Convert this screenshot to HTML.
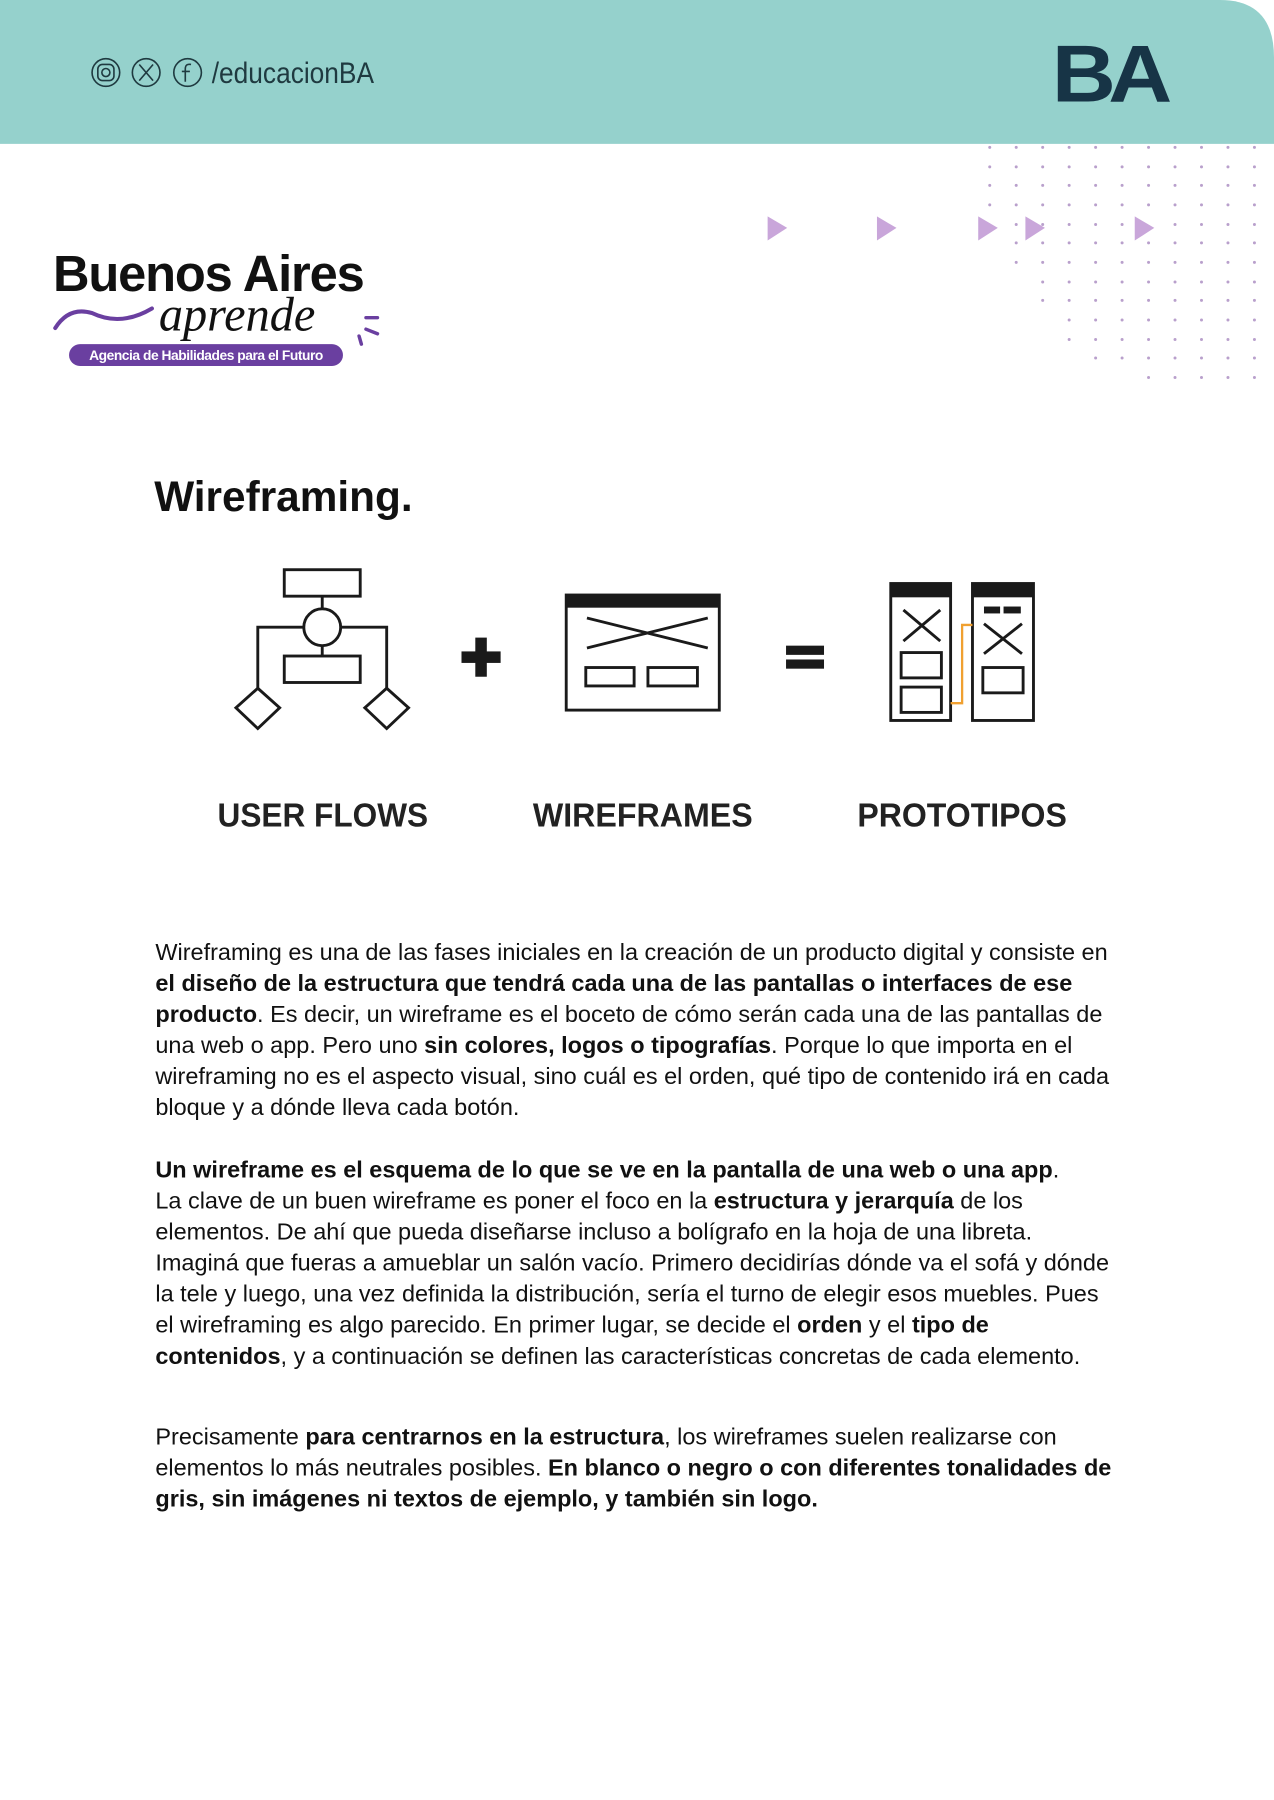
<!DOCTYPE html>
<html><head><meta charset="utf-8"><style>
html,body{margin:0;padding:0;background:#fff;}
svg{display:block;}
text{font-family:"Liberation Sans",Arial,sans-serif;}
.p{font-size:20.4px;fill:#111;}
.b{font-weight:bold;}
</style></head><body>
<svg width="1274" height="1800" viewBox="0 0 1107 1564" xmlns="http://www.w3.org/2000/svg">
<path d="M0 0 H1060 Q1107 0 1107 50 V125 H0 Z" fill="#95d1cc"/>
<g fill="none" stroke="#1f3a40" stroke-width="1.4">
<circle cx="92" cy="63" r="12"/><rect x="85" y="56" width="14" height="14" rx="4"/><circle cx="92" cy="63" r="3.5"/>
<circle cx="127" cy="63" r="12"/><path d="M121 56 L133 70 M133 56 L121 70"/>
<circle cx="163" cy="63" r="12"/><path d="M166 56 Q161 55 161 60 V71 M158 62 H165"/>
</g>
<text x="184" y="72" font-size="26" fill="#1f3a40" textLength="141" lengthAdjust="spacingAndGlyphs">/educacionBA</text>
<text x="914" y="88" font-size="70" font-weight="bold" fill="#173446" textLength="98" lengthAdjust="spacingAndGlyphs" style="letter-spacing:-6px">BA</text>
<g fill="#c9a6da">
<path d="M667 188 L684 198 L667 209Z"/><path d="M762 188 L779 198 L762 209Z"/><path d="M850 188 L867 198 L850 209Z"/><path d="M891 188 L908 198 L891 209Z"/><path d="M986 188 L1003 198 L986 209Z"/>
</g>
<text x="46" y="253" font-size="44" font-weight="bold" fill="#111" style="letter-spacing:-1px">Buenos Aires</text>
<path d="M48 285 Q60 266 80 272 Q105 284 132 268" fill="none" stroke="#6a3fa0" stroke-width="3.5" stroke-linecap="round"/>
<text x="138" y="287" font-size="42" font-style="italic" fill="#111" style="font-family:'Liberation Serif',serif">aprende</text>
<g stroke="#6a3fa0" stroke-width="3" stroke-linecap="round"><path d="M318 276 H328 M318 286 L328 290 M312 292 L314 299"/></g>
<rect x="60" y="299" width="238" height="19" rx="9.5" fill="#6a3fa0"/>
<text x="179" y="313" font-size="12" font-weight="bold" fill="#fff" text-anchor="middle" style="letter-spacing:-0.4px">Agencia de Habilidades para el Futuro</text>
<text x="134" y="444" font-size="36.8" font-weight="bold" fill="#111">Wireframing.</text>
<g fill="none" stroke="#1a1a1a" stroke-width="2.5">
<rect x="247" y="495" width="66" height="23"/>
<path d="M280 518 V529 M280 561 V570 M264 545 H224 V598 M296 545 H336 V598"/>
<circle cx="280" cy="545" r="16"/>
<rect x="247" y="570" width="66" height="23"/>
<path d="M224 598 L243 615 L224 633 L205 615Z M336 598 L355 615 L336 633 L317 615Z"/>
<rect x="492" y="517" width="133" height="100"/>
<path d="M510 537 L615 563 M510 563 L615 537"/>
<rect x="509" y="580" width="42" height="16"/><rect x="563" y="580" width="43" height="16"/>
<rect x="774" y="507" width="52" height="119"/>
<path d="M785 530 L817 557 M817 530 L785 557"/>
<rect x="783" y="567" width="35" height="22"/><rect x="783" y="597" width="35" height="22"/>
<rect x="845" y="507" width="53" height="119"/>
<path d="M855 542 L888 568 M888 542 L855 568"/>
<rect x="854" y="580" width="35" height="22"/>
</g>
<path d="M826 611 H836 V543 H845" fill="none" stroke="#f0a030" stroke-width="2"/>
<g fill="#1a1a1a">
<rect x="413" y="554" width="10" height="34"/><rect x="401" y="566" width="34" height="10"/>
<rect x="492" y="517" width="133" height="11"/>
<rect x="683" y="561" width="33" height="8"/><rect x="683" y="573" width="33" height="8"/>
<rect x="774" y="507" width="52" height="12"/><rect x="845" y="507" width="53" height="12"/>
<rect x="855" y="527" width="14" height="6"/><rect x="872" y="527" width="15" height="6"/>
</g>
<g font-size="29" font-weight="bold" fill="#222">
<text x="189" y="718" textLength="183" lengthAdjust="spacingAndGlyphs">USER FLOWS</text>
<text x="463" y="718" textLength="191" lengthAdjust="spacingAndGlyphs">WIREFRAMES</text>
<text x="745" y="718" textLength="182" lengthAdjust="spacingAndGlyphs">PROTOTIPOS</text>
</g>
<g class="p">
<text x="135" y="834">Wireframing es una de las fases iniciales en la creación de un producto digital y consiste en</text>
<text x="135" y="861" class="b">el diseño de la estructura que tendrá cada una de las pantallas o interfaces de ese</text>
<text x="135" y="888"><tspan class="b">producto</tspan>. Es decir, un wireframe es el boceto de cómo serán cada una de las pantallas de</text>
<text x="135" y="915">una web o app. Pero uno <tspan class="b">sin colores, logos o tipografías</tspan>. Porque lo que importa en el</text>
<text x="135" y="942">wireframing no es el aspecto visual, sino cuál es el orden, qué tipo de contenido irá en cada</text>
<text x="135" y="969">bloque y a dónde lleva cada botón.</text>
<text x="135" y="1023"><tspan class="b">Un wireframe es el esquema de lo que se ve en la pantalla de una web o una app</tspan>.</text>
<text x="135" y="1050">La clave de un buen wireframe es poner el foco en la <tspan class="b">estructura y jerarquía</tspan> de los</text>
<text x="135" y="1077">elementos. De ahí que pueda diseñarse incluso a bolígrafo en la hoja de una libreta.</text>
<text x="135" y="1104">Imaginá que fueras a amueblar un salón vacío. Primero decidirías dónde va el sofá y dónde</text>
<text x="135" y="1131">la tele y luego, una vez definida la distribución, sería el turno de elegir esos muebles. Pues</text>
<text x="135" y="1158">el wireframing es algo parecido. En primer lugar, se decide el <tspan class="b">orden</tspan> y el <tspan class="b">tipo de</tspan></text>
<text x="135" y="1185"><tspan class="b">contenidos</tspan>, y a continuación se definen las características concretas de cada elemento.</text>
<text x="135" y="1255">Precisamente <tspan class="b">para centrarnos en la estructura</tspan>, los wireframes suelen realizarse con</text>
<text x="135" y="1282">elementos lo más neutrales posibles. <tspan class="b">En blanco o negro o con diferentes tonalidades de</tspan></text>
<text x="135" y="1309" class="b">gris, sin imágenes ni textos de ejemplo, y también sin logo.</text>
</g>
<g fill="#b9a0cc">
<circle cx="860" cy="128" r="1.3"/><circle cx="883" cy="128" r="1.3"/><circle cx="906" cy="128" r="1.3"/><circle cx="929" cy="128" r="1.3"/><circle cx="952" cy="128" r="1.3"/><circle cx="975" cy="128" r="1.3"/><circle cx="998" cy="128" r="1.3"/><circle cx="1021" cy="128" r="1.3"/><circle cx="1044" cy="128" r="1.3"/><circle cx="1067" cy="128" r="1.3"/><circle cx="1090" cy="128" r="1.3"/>
<circle cx="860" cy="145" r="1.3"/><circle cx="883" cy="145" r="1.3"/><circle cx="906" cy="145" r="1.3"/><circle cx="929" cy="145" r="1.3"/><circle cx="952" cy="145" r="1.3"/><circle cx="975" cy="145" r="1.3"/><circle cx="998" cy="145" r="1.3"/><circle cx="1021" cy="145" r="1.3"/><circle cx="1044" cy="145" r="1.3"/><circle cx="1067" cy="145" r="1.3"/><circle cx="1090" cy="145" r="1.3"/>
<circle cx="860" cy="161" r="1.3"/><circle cx="883" cy="161" r="1.3"/><circle cx="906" cy="161" r="1.3"/><circle cx="929" cy="161" r="1.3"/><circle cx="952" cy="161" r="1.3"/><circle cx="975" cy="161" r="1.3"/><circle cx="998" cy="161" r="1.3"/><circle cx="1021" cy="161" r="1.3"/><circle cx="1044" cy="161" r="1.3"/><circle cx="1067" cy="161" r="1.3"/><circle cx="1090" cy="161" r="1.3"/>
<circle cx="860" cy="178" r="1.3"/><circle cx="883" cy="178" r="1.3"/><circle cx="906" cy="178" r="1.3"/><circle cx="929" cy="178" r="1.3"/><circle cx="952" cy="178" r="1.3"/><circle cx="975" cy="178" r="1.3"/><circle cx="998" cy="178" r="1.3"/><circle cx="1021" cy="178" r="1.3"/><circle cx="1044" cy="178" r="1.3"/><circle cx="1067" cy="178" r="1.3"/><circle cx="1090" cy="178" r="1.3"/>
<circle cx="883" cy="195" r="1.3"/><circle cx="906" cy="195" r="1.3"/><circle cx="929" cy="195" r="1.3"/><circle cx="952" cy="195" r="1.3"/><circle cx="975" cy="195" r="1.3"/><circle cx="1021" cy="195" r="1.3"/><circle cx="1044" cy="195" r="1.3"/><circle cx="1067" cy="195" r="1.3"/><circle cx="1090" cy="195" r="1.3"/>
<circle cx="883" cy="211" r="1.3"/><circle cx="906" cy="211" r="1.3"/><circle cx="929" cy="211" r="1.3"/><circle cx="952" cy="211" r="1.3"/><circle cx="975" cy="211" r="1.3"/><circle cx="998" cy="211" r="1.3"/><circle cx="1021" cy="211" r="1.3"/><circle cx="1044" cy="211" r="1.3"/><circle cx="1067" cy="211" r="1.3"/><circle cx="1090" cy="211" r="1.3"/>
<circle cx="883" cy="228" r="1.3"/><circle cx="906" cy="228" r="1.3"/><circle cx="929" cy="228" r="1.3"/><circle cx="952" cy="228" r="1.3"/><circle cx="975" cy="228" r="1.3"/><circle cx="998" cy="228" r="1.3"/><circle cx="1021" cy="228" r="1.3"/><circle cx="1044" cy="228" r="1.3"/><circle cx="1067" cy="228" r="1.3"/><circle cx="1090" cy="228" r="1.3"/>
<circle cx="906" cy="245" r="1.3"/><circle cx="929" cy="245" r="1.3"/><circle cx="952" cy="245" r="1.3"/><circle cx="975" cy="245" r="1.3"/><circle cx="998" cy="245" r="1.3"/><circle cx="1021" cy="245" r="1.3"/><circle cx="1044" cy="245" r="1.3"/><circle cx="1067" cy="245" r="1.3"/><circle cx="1090" cy="245" r="1.3"/>
<circle cx="906" cy="261" r="1.3"/><circle cx="929" cy="261" r="1.3"/><circle cx="952" cy="261" r="1.3"/><circle cx="975" cy="261" r="1.3"/><circle cx="998" cy="261" r="1.3"/><circle cx="1021" cy="261" r="1.3"/><circle cx="1044" cy="261" r="1.3"/><circle cx="1067" cy="261" r="1.3"/><circle cx="1090" cy="261" r="1.3"/>
<circle cx="929" cy="278" r="1.3"/><circle cx="952" cy="278" r="1.3"/><circle cx="975" cy="278" r="1.3"/><circle cx="998" cy="278" r="1.3"/><circle cx="1021" cy="278" r="1.3"/><circle cx="1044" cy="278" r="1.3"/><circle cx="1067" cy="278" r="1.3"/><circle cx="1090" cy="278" r="1.3"/>
<circle cx="929" cy="295" r="1.3"/><circle cx="952" cy="295" r="1.3"/><circle cx="975" cy="295" r="1.3"/><circle cx="998" cy="295" r="1.3"/><circle cx="1021" cy="295" r="1.3"/><circle cx="1044" cy="295" r="1.3"/><circle cx="1067" cy="295" r="1.3"/><circle cx="1090" cy="295" r="1.3"/>
<circle cx="952" cy="311" r="1.3"/><circle cx="975" cy="311" r="1.3"/><circle cx="998" cy="311" r="1.3"/><circle cx="1021" cy="311" r="1.3"/><circle cx="1044" cy="311" r="1.3"/><circle cx="1067" cy="311" r="1.3"/><circle cx="1090" cy="311" r="1.3"/>
<circle cx="998" cy="328" r="1.3"/><circle cx="1021" cy="328" r="1.3"/><circle cx="1044" cy="328" r="1.3"/><circle cx="1067" cy="328" r="1.3"/><circle cx="1090" cy="328" r="1.3"/>
</g>
</svg>
</body></html>
